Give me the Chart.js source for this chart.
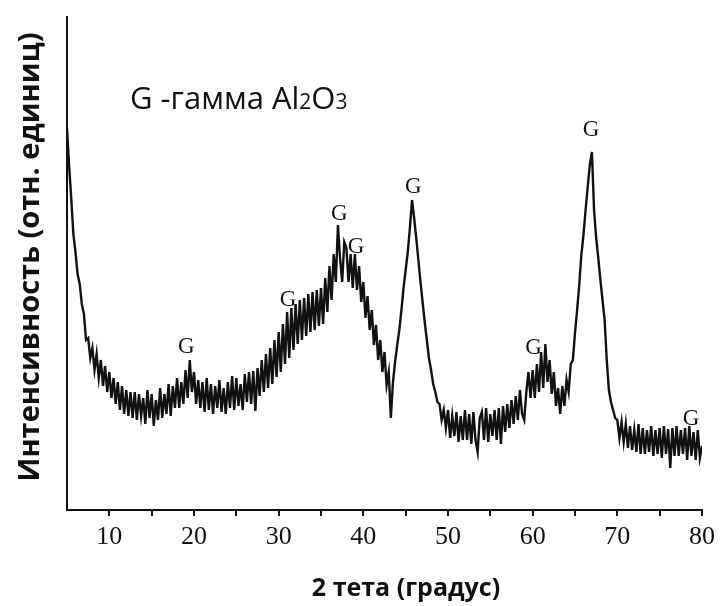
<!DOCTYPE html>
<html>
<head>
<meta charset="utf-8">
<script src="https://cdn.jsdelivr.net/npm/chart.js@4/dist/chart.umd.min.js"></script>
<style>
  html, body { margin: 0; padding: 0; background: #fff; }
  #wrap { width: 721px; height: 606px; }
</style>
</head>
<body>
<div id="wrap"><canvas id="xrd" width="721" height="606"></canvas></div>
<script>
// XRD scan, 0.25 deg step, split into 15-degree pieces
const scanStep = 0.25;
const segmentStarts = [5, 20, 35, 50, 65];

const intensity05 = [
  382, 344, 312, 276, 258, 236, 226, 206, 196, 170, 172, 152,
  162, 140, 156, 132, 150, 124, 144, 118, 138, 112, 132, 106,
  128, 100, 124, 96, 120, 94, 118, 92, 118, 90, 116, 94,
  112, 86, 120, 92, 116, 84, 110, 90, 122, 92, 116, 96,
  126, 94, 124, 102, 132, 102, 128, 106, 140, 112, 150, 118
];
const intensity20 = [
  138, 106, 130, 102, 128, 98, 132, 100, 126, 96, 124, 102,
  130, 98, 122, 96, 128, 102, 134, 100, 132, 104, 126, 100,
  136, 108, 138, 106, 139, 99, 142, 114, 150, 118, 156, 122,
  162, 126, 170, 133, 178, 138, 186, 146, 198, 152, 202, 160,
  206, 166, 210, 170, 212, 174, 216, 178, 218, 180, 220, 184
];
const intensity35 = [
  222, 186, 232, 198, 244, 210, 256, 228, 285, 252, 228, 268,
  262, 228, 256, 222, 256, 220, 244, 208, 228, 192, 214, 180,
  200, 165, 185, 150, 170, 138, 158, 125, 138, 92, 128, 148,
  165, 180, 200, 222, 240, 258, 282, 310, 292, 272, 250, 228,
  208, 188, 170, 152, 140, 126, 118, 108, 106, 90, 100, 82
];
const intensity50 = [
  100, 72, 94, 74, 98, 68, 94, 70, 100, 70, 96, 66,
  98, 70, 58, 92, 98, 70, 102, 68, 96, 74, 100, 70,
  102, 66, 104, 78, 106, 82, 110, 86, 114, 90, 120, 96,
  90, 118, 138, 112, 140, 112, 146, 118, 158, 122, 166, 128,
  150, 116, 138, 104, 122, 96, 124, 104, 130, 118, 146, 150
];
const intensity65 = [
  177, 200, 225, 255, 275, 300, 323, 345, 358, 300, 272, 252,
  230, 210, 190, 150, 120, 108, 100, 92, 90, 72, 88, 68,
  86, 62, 84, 60, 80, 58, 86, 56, 82, 56, 80, 58,
  84, 54, 80, 56, 82, 52, 84, 56, 81, 42, 82, 54,
  84, 54, 80, 56, 82, 50, 84, 54, 78, 50, 80, 52,
  64
];

// phase marks: gamma-Al2O3 reflections
const peakAngles = [19.1, 31.1, 37.15, 39.15, 45.9, 60.1, 66.9, 78.7];
const peakLabelLevels = [163, 210, 296, 263, 323, 162, 380, 91];
const peakMark = 'G';

const xTicks = [10, 20, 30, 40, 50, 60, 70, 80];
const xTitle = '2 тета (градус)';
const yTitle = 'Интенсивность (отн. единиц)';

const points = [];
[intensity05, intensity20, intensity35, intensity50, intensity65].forEach((seg, s) => {
  seg.forEach((v, i) => points.push({ x: segmentStarts[s] + i * scanStep, y: v }));
});

const ink = '#111';

const textLayer = {
  id: 'textLayer',
  afterDatasetsDraw(chart) {
    const { ctx, scales: { x, y } } = chart;
    ctx.save();
    ctx.fillStyle = ink;

    // G marks above the reflections
    ctx.font = '23px "Liberation Serif"';
    ctx.textAlign = 'center';
    ctx.textBaseline = 'middle';
    peakAngles.forEach((a, i) => {
      ctx.fillText(peakMark, x.getPixelForValue(a), y.getPixelForValue(peakLabelLevels[i]));
    });

    // phase key with subscripts
    ctx.textAlign = 'left';
    ctx.textBaseline = 'alphabetic';
    const big = '31px "Open Sans"';
    const small = '21px "Open Sans"';
    let px = 130;
    const base = 109;
    [['G -гамма Al', big], ['2', small], ['O', big], ['3', small]].forEach(([t, f]) => {
      ctx.font = f;
      ctx.fillText(t, px, base);
      px += ctx.measureText(t).width;
    });

    // axis titles
    ctx.font = 'bold 25px "Open Sans"';
    ctx.textAlign = 'center';
    ctx.fillText(xTitle, 406, 596);

    ctx.translate(39, 257);
    ctx.rotate(-Math.PI / 2);
    ctx.font = 'bold 29px "Open Sans"';
    ctx.fillText(yTitle, 0, 0);
    ctx.restore();
  }
};

new Chart(document.getElementById('xrd'), {
  type: 'line',
  data: {
    datasets: [{
      data: points,
      borderColor: ink,
      borderWidth: 2.4,
      pointRadius: 0,
      tension: 0,
      fill: false
    }]
  },
  options: {
    responsive: false,
    animation: false,
    layout: { padding: { left: 67, right: 18, top: 17, bottom: 0 } },
    plugins: { legend: { display: false }, tooltip: { enabled: false } },
    scales: {
      x: {
        type: 'linear',
        min: 5,
        max: 80,
        afterBuildTicks: s => {
          s.ticks = [5, 15, 25, 35, 45, 55, 65, 75].concat(xTicks)
            .sort((a, b) => a - b).map(v => ({ value: v }));
        },
        ticks: {
          autoSkip: false,
          maxRotation: 0,
          padding: 6,
          color: ink,
          font: { family: 'Liberation Serif', size: 26 },
          callback: v => (xTicks.includes(v) ? String(v) : '')
        },
        grid: {
          drawOnChartArea: false,
          tickLength: 6,
          lineWidth: 2,
          color: c => (c.tick && c.tick.value === 5 ? 'rgba(0,0,0,0)' : ink)
        },
        border: { color: ink, width: 2 },
        afterFit: s => { s.height = 96; }
      },
      y: {
        min: 0,
        max: 493,
        ticks: { display: false },
        grid: { display: false },
        border: { color: ink, width: 2 },
        afterFit: s => { s.width = 0; }
      }
    }
  },
  plugins: [textLayer]
});
</script>
</body>
</html>
